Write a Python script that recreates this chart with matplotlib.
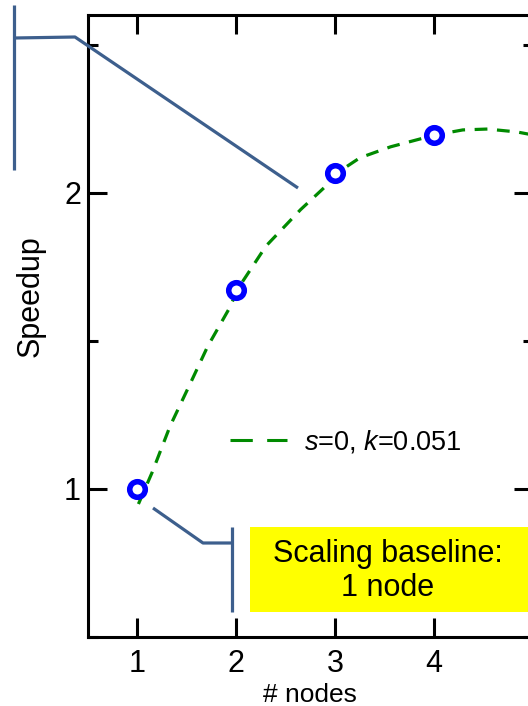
import matplotlib
matplotlib.use("Agg")
import matplotlib.pyplot as plt
from matplotlib.lines import Line2D
from matplotlib.patches import Rectangle
from matplotlib.ticker import MultipleLocator

# ------------------------------------
# Data
# ------------------------------------
nodes = [1, 2, 3, 4]
speedup = [1.0, 1.67, 2.067, 2.195]

# fitted curve (s=0, k=0.051)
curve_x = [1.01, 1.15, 1.33, 1.54, 1.71, 1.94, 2.01, 2.30, 2.65, 2.92, 3.02,
           3.25, 3.56, 4.01, 4.29, 4.54, 4.84, 5.0]
curve_y = [0.949, 1.057, 1.212, 1.360, 1.481, 1.616, 1.673, 1.820, 1.943, 2.027, 2.067,
           2.118, 2.155, 2.195, 2.212, 2.215, 2.205, 2.195]

legend_label = "$\\mathit{s}$=0, $\\mathit{k}$=0.051"
box_text = "Scaling baseline:\n1 node"

plt.rcParams["font.family"] = ["Liberation Sans", "DejaVu Sans"]
plt.rcParams["mathtext.fontset"] = "custom"
plt.rcParams["mathtext.rm"] = "Liberation Sans"
plt.rcParams["mathtext.it"] = "Liberation Sans:italic"

W, H = 528, 706
fig = plt.figure(figsize=(W / 100, H / 100), dpi=100)
ax = fig.add_axes([88 / W, 69 / H, 445 / W, 622 / H])

green = "#008a00"
ax.plot(curve_x, curve_y, color=green, lw=2.3, dashes=(4, 3), zorder=2)
ax.plot(nodes, speedup, "o", ms=11.2, mew=4, mec="#0000ff", mfc="white",
        linestyle="none", zorder=3)

ax.set_xlim(0.5, 5.0)
ax.set_ylim(0.5, 2.6)
ax.set_xticks(nodes)
ax.yaxis.set_major_locator(MultipleLocator(1))
ax.yaxis.set_minor_locator(MultipleLocator(0.5))

for sp in ax.spines.values():
    sp.set_linewidth(2.2)
ax.tick_params(which="both", direction="in", top=True, right=True,
               width=2.2, labelsize=22)
ax.tick_params(which="major", length=13.7)
ax.tick_params(which="minor", length=7)
ax.tick_params(axis="x", pad=9)
ax.tick_params(axis="y", pad=5)

fig.text(31 / W, 1 - 296 / H, "Speedup", rotation=90, ha="center", va="center",
         fontsize=22)
fig.text(310 / W, 1 - 702 / H, "# nodes", ha="center", va="baseline", fontsize=19)

proxy = Line2D([], [], color=green, lw=2.2, dashes=(7.3, 4.7))
ax.legend([proxy], [legend_label], loc="center left",
          bbox_to_anchor=((230 - 88) / 445, (637 - 442) / 622),
          frameon=False, fontsize=19.5, handlelength=2.1, handletextpad=0.65,
          borderpad=0, borderaxespad=0)


# callout lines, drawn in figure pixel positions
def fig_line(xs, ys):
    fig.add_artist(Line2D([x / W for x in xs], [1 - y / H for y in ys],
                          color="#3d5f8d", lw=2.3, solid_capstyle="butt",
                          transform=fig.transFigure))


fig_line([14, 14], [5, 170])
fig_line([14, 75, 298], [38, 37, 188])
fig_line([153, 203, 232], [508, 543, 543])
fig_line([232, 232], [527, 612])

fig.add_artist(Rectangle((250 / W, 1 - 612 / H), 290 / W, 85 / H,
                         facecolor="#ffff00", edgecolor="none",
                         transform=fig.transFigure))
fig.text(388 / W, 1 - 571 / H, box_text, ha="center", va="center",
         fontsize=22, linespacing=1.2)

fig.savefig("out.png", dpi=100)
